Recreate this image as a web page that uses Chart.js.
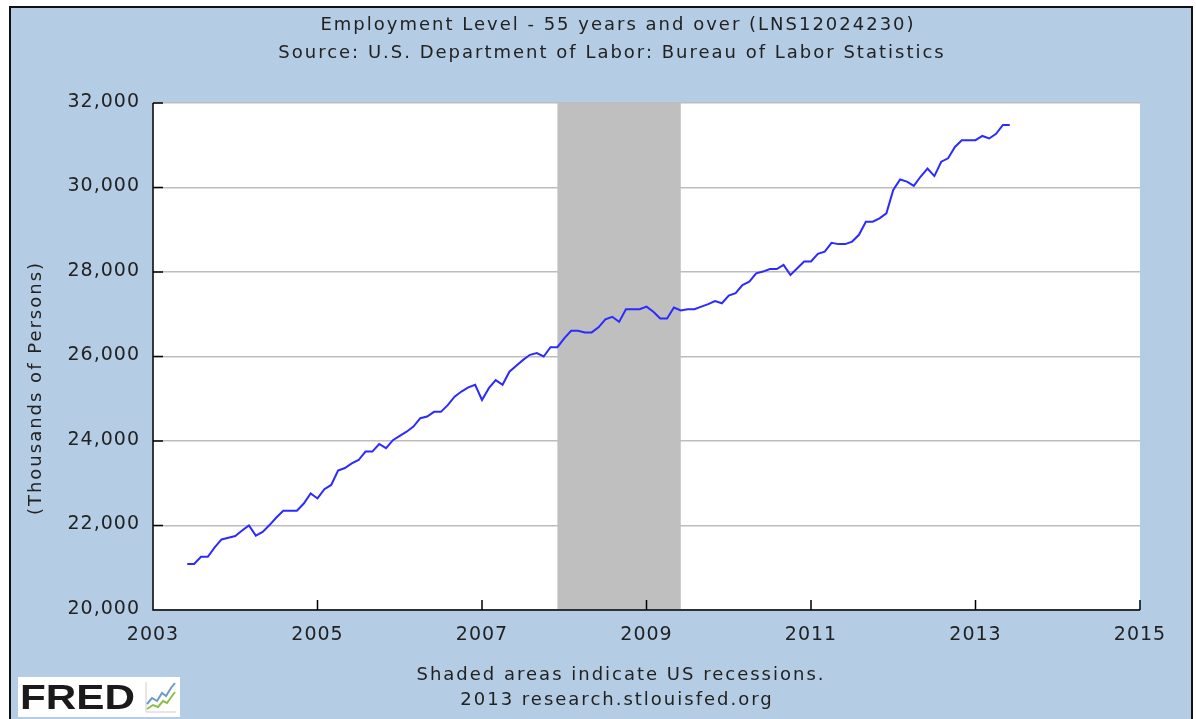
<!DOCTYPE html>
<html>
<head>
<meta charset="utf-8">
<title>Employment Level - 55 years and over (LNS12024230)</title>
<script src="https://cdn.jsdelivr.net/npm/chart.js@4/dist/chart.umd.min.js"></script>
<style>
  body { margin: 0; background: #fff; }
  canvas { display: block; }
</style>
</head>
<body>
<canvas id="myChart" width="1196" height="719"></canvas>
<script>
// first month of the series, then one value per month (thousands of persons)
const startYear = 2003;
const startMonth = 6;
const employment = [
  // 2003 Jun-Dec
  21090, 21090, 21260, 21260, 21480, 21670, 21710,
  // 2004
  21750, 21880, 22000, 21760, 21850, 22010, 22190, 22350, 22350, 22350, 22520, 22760,
  // 2005
  22640, 22860, 22960, 23300, 23360, 23470, 23550, 23750, 23750, 23930, 23830, 24020,
  // 2006
  24120, 24220, 24340, 24540, 24580, 24690, 24690, 24850, 25050, 25170, 25270, 25330,
  // 2007
  24970, 25250, 25440, 25330, 25640, 25780, 25920, 26040, 26080, 26000, 26220, 26220,
  // 2008
  26430, 26610, 26610, 26570, 26570, 26690, 26880, 26940, 26820, 27120, 27120, 27120,
  // 2009
  27180, 27060, 26900, 26900, 27160, 27090, 27120, 27120, 27180, 27240, 27310, 27260,
  // 2010
  27440, 27500, 27690, 27770, 27970, 28010, 28070, 28070, 28170, 27930, 28090, 28250,
  // 2011
  28250, 28430, 28480, 28690, 28660, 28660, 28720, 28880, 29190, 29190, 29270, 29390,
  // 2012
  29940, 30190, 30140, 30040, 30260, 30450, 30270, 30610, 30690, 30960, 31120, 31120,
  // 2013 Jan-Jun
  31120, 31220, 31160, 31270, 31480, 31480
];

// recession (year, month)
const recessionStart = [2007, 12];
const recessionEnd = [2009, 6];

const xTicks = [2003, 2005, 2007, 2009, 2011, 2013, 2015];
const yTicks = [20000, 22000, 24000, 26000, 28000, 30000, 32000];

const titleLines = [
  "Employment Level - 55 years and over (LNS12024230)",
  "Source: U.S. Department of Labor: Bureau of Labor Statistics"
];
const yTitle = "(Thousands of Persons)";
const footLines = [
  "Shaded areas indicate US recessions.",
  "2013 research.stlouisfed.org"
];

const FONT = "'DejaVu Sans', sans-serif";
const TEXT = "#222";

const toYear = (y, m) => y + (m - 1) / 12;

// build the points from month index
let points = [];
employment.forEach((v, i) => {
  let m = startMonth - 1 + i;
  let y = startYear + Math.floor(m / 12);
  points.push({ x: toYear(y, (m % 12) + 1), y: v });
});

const frame = {
  id: "frame",
  beforeDraw(chart) {
    const c = chart.ctx;
    const a = chart.chartArea;
    c.save();
    c.fillStyle = "#fff";
    c.fillRect(0, 0, chart.width, chart.height);
    c.fillStyle = "#b4cde4";
    c.fillRect(10, 7, chart.width - 14, chart.height - 7);
    c.strokeStyle = "#111";
    c.lineWidth = 2;
    c.strokeRect(10, 7, chart.width - 14, chart.height - 5);
    c.fillStyle = "#fff";
    c.fillRect(a.left, a.top, a.right - a.left, a.bottom - a.top);
    c.restore();
  }
};

const recession = {
  id: "recession",
  beforeDatasetsDraw(chart) {
    const c = chart.ctx;
    const a = chart.chartArea;
    const x = chart.scales.x;
    let x0 = x.getPixelForValue(toYear(recessionStart[0], recessionStart[1]));
    let x1 = x.getPixelForValue(toYear(recessionEnd[0], recessionEnd[1]));
    c.save();
    c.fillStyle = "#bfbfbf";
    c.fillRect(x0, a.top, x1 - x0, a.bottom - a.top - 1);
    c.restore();
  }
};

const decorations = {
  id: "decorations",
  afterDraw(chart) {
    const c = chart.ctx;
    const a = chart.chartArea;
    const sx = chart.scales.x;
    const sy = chart.scales.y;
    c.save();

    // axis lines and inward tick marks
    c.strokeStyle = "#000";
    c.lineWidth = 1.5;
    c.beginPath();
    c.moveTo(a.left, a.top);
    c.lineTo(a.left, a.bottom);
    c.lineTo(a.right, a.bottom);
    yTicks.forEach(v => {
      let py = sy.getPixelForValue(v);
      c.moveTo(a.left, py);
      c.lineTo(a.left + 10, py);
    });
    xTicks.forEach(v => {
      let px = sx.getPixelForValue(v);
      c.moveTo(px, a.bottom);
      c.lineTo(px, a.bottom - 10);
    });
    c.stroke();

    // tick labels
    c.fillStyle = TEXT;
    c.textBaseline = "middle";
    c.font = "19px " + FONT;
    c.letterSpacing = "1px";
    c.textAlign = "right";
    yTicks.forEach(v => {
      c.fillText(v.toLocaleString("en-US"), a.left - 13, sy.getPixelForValue(v) - 1);
    });
    c.textAlign = "center";
    xTicks.forEach(v => {
      c.fillText(String(v), sx.getPixelForValue(v), a.bottom + 25);
    });

    // titles and notes
    c.font = "18px " + FONT;
    c.letterSpacing = "2px";
    c.fillText(titleLines[0], 618, 25);
    c.fillText(titleLines[1], 612, 53);
    c.fillText(footLines[0], 621, 675);
    c.fillText(footLines[1], 617, 700);

    c.save();
    c.translate(36, 388);
    c.rotate(-Math.PI / 2);
    c.fillText(yTitle, 0, 0);
    c.restore();
    c.letterSpacing = "0px";

    // FRED logo
    c.fillStyle = "#fff";
    c.fillRect(18, 677, 162, 40);
    c.fillStyle = "#1a1a1a";
    c.font = "bold 35px 'Liberation Sans', sans-serif";
    c.textAlign = "left";
    c.textBaseline = "alphabetic";
    let w = c.measureText("FRED").width;
    c.save();
    c.translate(20, 709);
    c.scale(115 / w, 1);
    c.fillText("FRED", 0, 0);
    c.restore();
    c.strokeStyle = "#ccc";
    c.lineWidth = 1;
    c.beginPath();
    c.moveTo(146, 682);
    c.lineTo(146, 712);
    c.lineTo(176, 712);
    c.stroke();
    c.lineWidth = 2;
    c.strokeStyle = "#6b9bc8";
    c.beginPath();
    c.moveTo(147, 704); c.lineTo(152, 698); c.lineTo(157, 701); c.lineTo(162, 693);
    c.lineTo(166, 696); c.lineTo(171, 688); c.lineTo(175, 683);
    c.stroke();
    c.strokeStyle = "#8cbf4a";
    c.beginPath();
    c.moveTo(147, 709); c.lineTo(153, 705); c.lineTo(158, 707); c.lineTo(163, 701);
    c.lineTo(167, 703); c.lineTo(172, 696); c.lineTo(175, 692);
    c.stroke();
    c.restore();
  }
};

const ctx = document.getElementById("myChart").getContext("2d");
const myChart = new Chart(ctx, {
  type: "line",
  data: {
    datasets: [{
      label: "Employment Level - 55 years and over",
      data: points,
      borderColor: "#2b2bff",
      borderWidth: 2,
      pointRadius: 0,
      tension: 0,
      fill: false
    }]
  },
  options: {
    responsive: false,
    animation: false,
    devicePixelRatio: 1,
    layout: { padding: { top: 103, right: 56, bottom: 109, left: 0 } },
    plugins: {
      legend: { display: false },
      title: { display: false },
      tooltip: { enabled: false }
    },
    scales: {
      x: {
        type: "linear",
        min: 2003,
        max: 2015,
        afterBuildTicks: s => { s.ticks = xTicks.map(v => ({ value: v })); },
        afterFit: s => { s.height = 0; },
        grid: { display: false, drawTicks: false },
        border: { display: false },
        ticks: { display: false }
      },
      y: {
        min: 20000,
        max: 32000,
        afterBuildTicks: s => { s.ticks = yTicks.map(v => ({ value: v })); },
        afterFit: s => { s.width = 153; },
        grid: { color: "#bdbdbd", lineWidth: 1.5, drawTicks: false },
        border: { display: false },
        ticks: { display: false }
      }
    }
  },
  plugins: [frame, recession, decorations]
});
</script>
</body>
</html>
